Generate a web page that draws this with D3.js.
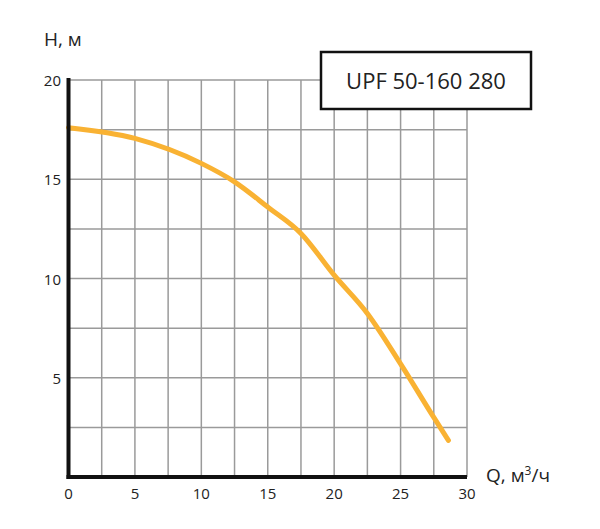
<!DOCTYPE html><html><head><meta charset="utf-8"><script src="https://d3js.org/d3.v7.min.js"></script>
<style>body{margin:0;background:#fff}text{font-family:"Open Sans",sans-serif}</style></head><body><svg id="c" width="600" height="529"></svg><script>
const qValues=[0,5,10,12.5,15,17.5,20,22.5,25,27.5,28.6];
const hValues=[17.6,17.06,15.8,14.87,13.6,12.27,10.17,8.24,5.7,3.0,1.85];
const xTicks=[0,5,10,15,20,25,30];
const yTicks=[5,10,15,20];
const title="UPF 50-160 280";
const svg=d3.select("#c");
const x=d3.scaleLinear().domain([0,30]).range([68.5,467]);
const y=d3.scaleLinear().domain([0,20]).range([477,80]);
const g=svg.append("g");
d3.range(2.5,30.01,2.5).forEach(v=>g.append("line").attr("x1",x(v)).attr("x2",x(v)).attr("y1",y(20)).attr("y2",y(0)).attr("stroke","#9a9a9a").attr("stroke-width",1.5));
d3.range(2.5,20.01,2.5).forEach(v=>g.append("line").attr("x1",x(0)).attr("x2",x(30)).attr("y1",y(v)).attr("y2",y(v)).attr("stroke","#9a9a9a").attr("stroke-width",1.5));
svg.append("path").datum(qValues.map((q,i)=>[q,hValues[i]])).attr("d",d3.line().x(d=>x(d[0])).y(d=>y(d[1])).curve(d3.curveMonotoneX))
 .attr("fill","none").attr("stroke","#F9B233").attr("stroke-width",5).attr("stroke-linecap","round");
svg.append("line").attr("x1",x(0)).attr("x2",x(0)).attr("y1",y(20)-2).attr("y2",y(0)+2).attr("stroke","#111").attr("stroke-width",4);
svg.append("line").attr("x1",x(0)-2).attr("x2",x(30)).attr("y1",y(0)).attr("y2",y(0)).attr("stroke","#111").attr("stroke-width",4);
xTicks.forEach(v=>svg.append("text").attr("x",x(v)).attr("y",499).attr("text-anchor","middle").attr("font-size",15).attr("fill","#222").text(v));
yTicks.forEach(v=>svg.append("text").attr("x",61).attr("y",y(v)+6).attr("text-anchor","end").attr("font-size",15).attr("fill","#222").text(v));
svg.append("text").attr("x",44).attr("y",46).attr("font-size",19).attr("fill","#222").text("H, м");
svg.append("text").attr("x",486).attr("y",482).attr("font-size",19).attr("fill","#222").html('Q, м<tspan dy="-7" font-size="12">3</tspan><tspan dy="7">/ч</tspan>');
svg.append("rect").attr("x",321).attr("y",52).attr("width",210).attr("height",57).attr("fill","#fff").attr("stroke","#111").attr("stroke-width",2.5);
svg.append("text").attr("x",426).attr("y",89).attr("text-anchor","middle").attr("font-size",22).attr("fill","#222").text(title);
</script></body></html>
